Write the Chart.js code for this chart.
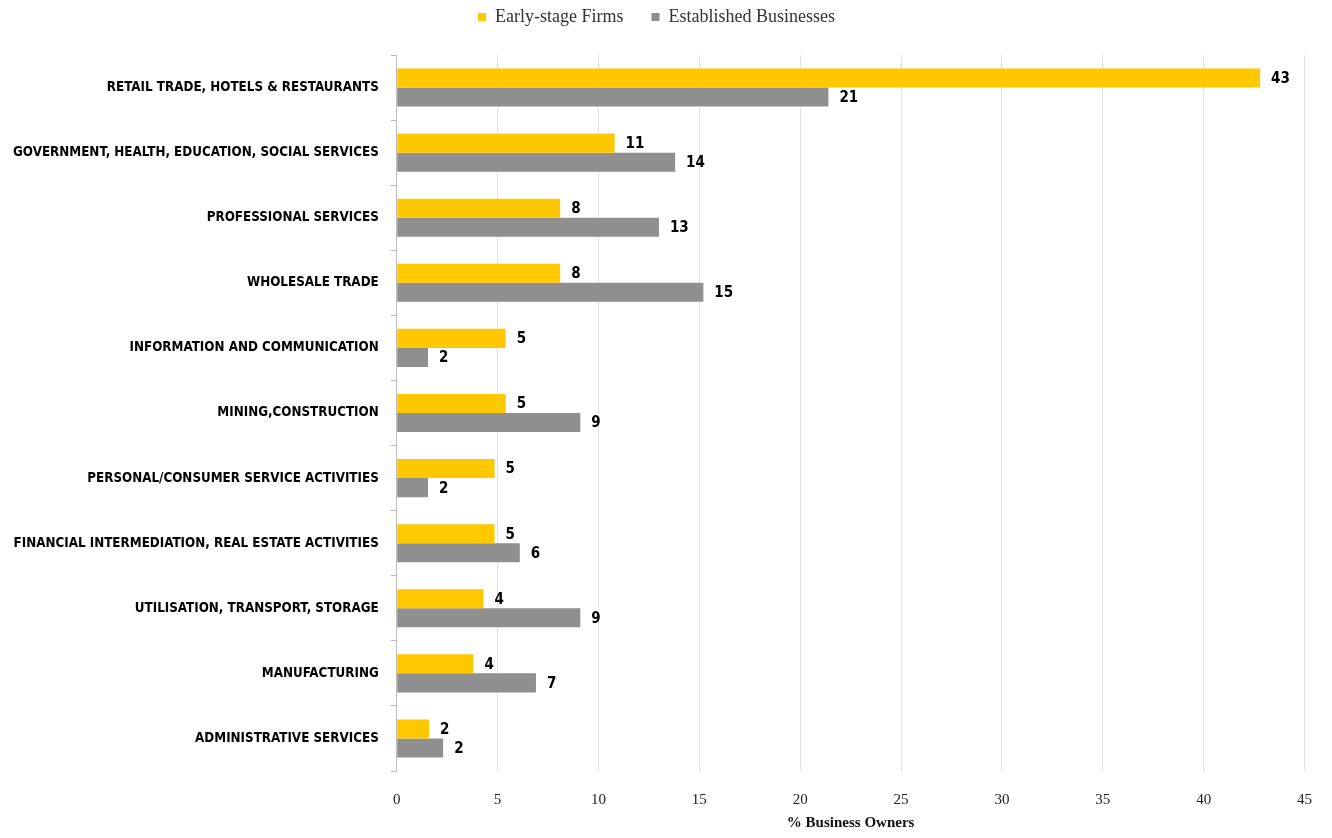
<!DOCTYPE html>
<html>
<head>
<meta charset="utf-8">
<script src="https://cdn.jsdelivr.net/npm/chart.js@4/dist/chart.umd.min.js"></script>
<style>
    body { margin: 0; background: #fff; }
    #wrap { width: 1332px; height: 838px; }
</style>
</head>
<body>
<div id="wrap"><canvas id="bargraph"></canvas></div>
<script>
var sectors = [
    'RETAIL TRADE, HOTELS & RESTAURANTS',
    'GOVERNMENT, HEALTH, EDUCATION, SOCIAL SERVICES',
    'PROFESSIONAL SERVICES',
    'WHOLESALE TRADE',
    'INFORMATION AND COMMUNICATION',
    'MINING,CONSTRUCTION',
    'PERSONAL/CONSUMER SERVICE ACTIVITIES',
    'FINANCIAL INTERMEDIATION, REAL ESTATE ACTIVITIES',
    'UTILISATION, TRANSPORT, STORAGE',
    'MANUFACTURING',
    'ADMINISTRATIVE SERVICES'
];
var earlyStage = [42.8, 10.8, 8.1, 8.1, 5.4, 5.4, 4.85, 4.85, 4.3, 3.8, 1.6];
var established = [21.4, 13.8, 13.0, 15.2, 1.55, 9.1, 1.55, 6.1, 9.1, 6.9, 2.3];
var xTicks = [0, 5, 10, 15, 20, 25, 30, 35, 40, 45];

var labelFont = '"Liberation Sans Narrow", "DejaVu Sans Condensed", "Roboto Condensed", sans-serif';

// value labels at the end of each bar
var valueLabels = {
    id: 'valueLabels',
    afterDatasetsDraw: function(chart) {
        var ctx = chart.ctx;
        ctx.save();
        ctx.font = 'bold 15px ' + labelFont;
        ctx.fillStyle = '#000';
        ctx.textAlign = 'left';
        ctx.textBaseline = 'middle';
        chart.data.datasets.forEach(function(ds, i) {
            chart.getDatasetMeta(i).data.forEach(function(bar, j) {
                ctx.fillText(Math.round(ds.data[j]), bar.x + 11, bar.y + 1);
            });
        });
        ctx.restore();
    }
};

// extra room under the legend
var legendSpace = {
    id: 'legendSpace',
    beforeInit: function(chart) {
        var fit = chart.legend.fit;
        chart.legend.fit = function() {
            fit.call(this);
            this.height += 19;
        };
    }
};

var ctx = document.getElementById('bargraph').getContext('2d');
window.myBar = new Chart(ctx, {
    type: 'bar',
    data: {
        labels: sectors,
        datasets: [{
            label: 'Early-stage Firms',
            backgroundColor: '#ffc800',
            data: earlyStage
        }, {
            label: 'Established Businesses',
            backgroundColor: '#8f8f8f',
            data: established
        }]
    },
    options: {
        indexAxis: 'y',
        responsive: true,
        maintainAspectRatio: false,
        animation: false,
        layout: { padding: { left: 1, right: 20, top: -20, bottom: 6 } },
        datasets: {
            bar: { barPercentage: 1.0, categoryPercentage: 0.585 }
        },
        plugins: {
            legend: {
                position: 'top',
                labels: {
                    boxWidth: 8,
                    boxHeight: 8,
                    padding: 28,
                    color: '#333',
                    font: { family: '"Liberation Serif", serif', size: 18 }
                }
            },
            tooltip: { enabled: false }
        },
        scales: {
            x: {
                min: 0,
                max: 45,
                afterBuildTicks: function(axis) {
                    axis.ticks = xTicks.map(function(v) { return { value: v }; });
                },
                afterFit: function(axis) {
                    axis.height = 61;
                },
                grid: { color: '#e4e4e4', drawTicks: false },
                border: { display: false },
                ticks: {
                    color: '#222',
                    padding: 20,
                    font: { family: '"Liberation Serif", serif', size: 15 }
                },
                title: {
                    display: true,
                    text: '% Business Owners',
                    color: '#111',
                    padding: 0,
                    font: { family: '"Liberation Serif", serif', size: 15, weight: 'bold' }
                }
            },
            y: {
                grid: { drawOnChartArea: false, color: '#bbb', tickLength: 6, offset: true },
                border: { display: true, color: '#bbb' },
                ticks: {
                    color: '#000',
                    padding: 12,
                    font: { family: labelFont, size: 13.3, weight: 'bold' }
                }
            }
        }
    },
    plugins: [valueLabels, legendSpace]
});
</script>
</body>
</html>
